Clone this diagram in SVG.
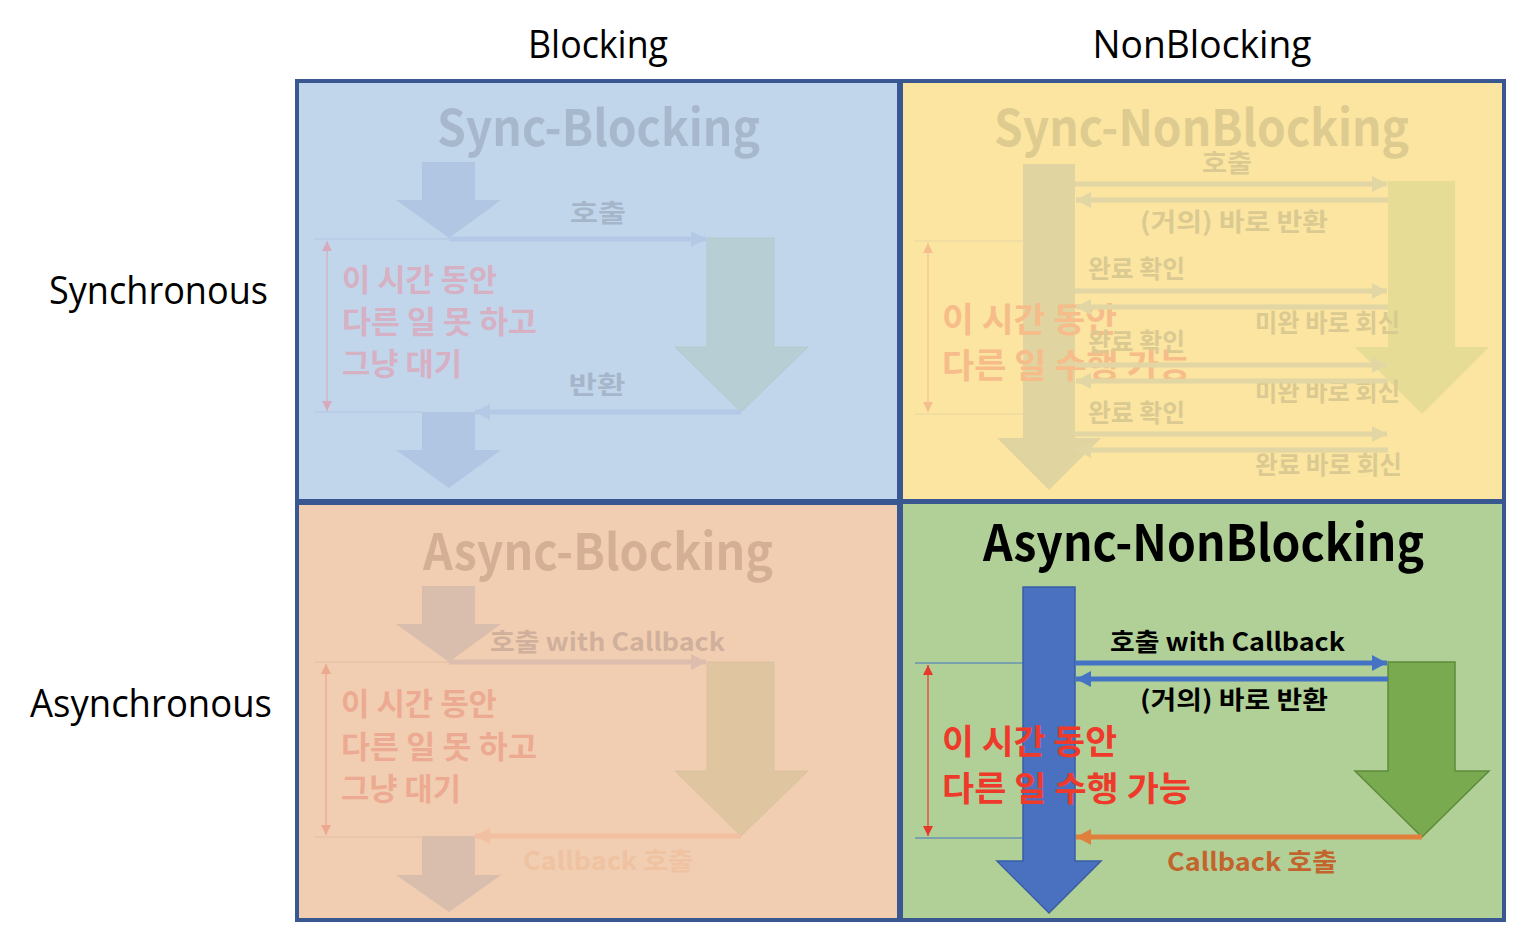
<svg xmlns="http://www.w3.org/2000/svg" width="1536" height="952" viewBox="0 0 1536 952">
<style>
.hdr{font-family:"Open Sans","Noto Sans",sans-serif;font-size:38px;fill:#000;text-anchor:middle}
.ttl{font-family:"Noto Sans CJK KR","Noto Sans",sans-serif;font-weight:700;font-size:50px;text-anchor:middle}
.lbl{font-family:"Noto Sans CJK KR","Noto Sans",sans-serif;font-weight:700;font-size:25px}
.lblm{font-family:"Noto Sans CJK KR","Noto Sans",sans-serif;font-weight:700;font-size:25px;text-anchor:middle}
.big{font-family:"Noto Sans CJK KR","Noto Sans",sans-serif;font-weight:700;font-size:31px}
.big2{font-family:"Noto Sans CJK KR","Noto Sans",sans-serif;font-weight:700;font-size:34px}
.quad{stroke:#395790;stroke-width:4}
.ln{stroke-width:5;fill:none}
.thin{stroke-width:1.2;fill:none}
</style>
<defs>
<marker id="mTLb" markerUnits="userSpaceOnUse" markerWidth="15" markerHeight="16" refX="15" refY="8" orient="auto"><path d="M0,0 L15,8 L0,16 z" fill="#B3C9E5"/></marker>
<marker id="mTLp" markerUnits="userSpaceOnUse" markerWidth="10" markerHeight="10" refX="10" refY="5" orient="auto-start-reverse"><path d="M0,0 L10,5 L0,10 z" fill="#D9AABD"/></marker>
<marker id="mTRy" markerUnits="userSpaceOnUse" markerWidth="15" markerHeight="16" refX="15" refY="8" orient="auto"><path d="M0,0 L15,8 L0,16 z" fill="#E2D6A4"/></marker>
<marker id="mTRo" markerUnits="userSpaceOnUse" markerWidth="10" markerHeight="10" refX="10" refY="5" orient="auto-start-reverse"><path d="M0,0 L10,5 L0,10 z" fill="#F5BE8E"/></marker>
<marker id="mBLc" markerUnits="userSpaceOnUse" markerWidth="15" markerHeight="16" refX="15" refY="8" orient="auto"><path d="M0,0 L15,8 L0,16 z" fill="#DCBDAE"/></marker>
<marker id="mBLo" markerUnits="userSpaceOnUse" markerWidth="15" markerHeight="16" refX="15" refY="8" orient="auto"><path d="M0,0 L15,8 L0,16 z" fill="#F1C0A0"/></marker>
<marker id="mBLp" markerUnits="userSpaceOnUse" markerWidth="10" markerHeight="10" refX="10" refY="5" orient="auto-start-reverse"><path d="M0,0 L10,5 L0,10 z" fill="#EDA890"/></marker>
<marker id="mBRb" markerUnits="userSpaceOnUse" markerWidth="15" markerHeight="16" refX="15" refY="8" orient="auto"><path d="M0,0 L15,8 L0,16 z" fill="#4472C4"/></marker>
<marker id="mBRo" markerUnits="userSpaceOnUse" markerWidth="15" markerHeight="16" refX="15" refY="8" orient="auto"><path d="M0,0 L15,8 L0,16 z" fill="#E0803C"/></marker>
<marker id="mBRr" markerUnits="userSpaceOnUse" markerWidth="10" markerHeight="10" refX="10" refY="5" orient="auto-start-reverse"><path d="M0,0 L10,5 L0,10 z" fill="#E8382A"/></marker>
</defs>
<rect width="1536" height="952" fill="#FFFFFF"/>

<g id="headers">
<text class="hdr" x="598" y="58" textLength="140" lengthAdjust="spacingAndGlyphs">Blocking</text>
<text class="hdr" x="1202" y="58" textLength="219" lengthAdjust="spacingAndGlyphs">NonBlocking</text>
<text class="hdr" x="158.5" y="304" textLength="219" lengthAdjust="spacingAndGlyphs">Synchronous</text>
<text class="hdr" x="151" y="717" textLength="242" lengthAdjust="spacingAndGlyphs">Asynchronous</text>
</g>

<g id="sync-blocking">
<rect class="quad" x="297" y="81" width="602" height="420" fill="#C2D6EB"/>
<text class="ttl" x="598.5" y="146" fill="#A8B8CC" textLength="323" lengthAdjust="spacingAndGlyphs">Sync-Blocking</text>
<polygon points="422,162 475,162 475,200 501,200 449,238 396,200 422,200" fill="#B0C6E3"/>
<polygon points="707,238 774,238 774,347 808,347 741,412 675,347 707,347" fill="#B8CED5" stroke="#B2CACB" stroke-width="1"/>
<polygon points="422,412 475,412 475,450 501,450 449,488 396,450 422,450" fill="#B0C6E3"/>
<text class="lblm" x="598" y="222" fill="#A6B6CA" textLength="56" lengthAdjust="spacingAndGlyphs">호출</text>
<text class="lblm" x="597" y="394" fill="#A6B6CA" textLength="57" lengthAdjust="spacingAndGlyphs">반환</text>
<text class="big" x="342" y="291" fill="#D6B0C3" textLength="155" lengthAdjust="spacingAndGlyphs">이 시간 동안</text>
<text class="big" x="342" y="333" fill="#D6B0C3" textLength="195" lengthAdjust="spacingAndGlyphs">다른 일 못 하고</text>
<text class="big" x="342" y="375" fill="#D6B0C3" textLength="120" lengthAdjust="spacingAndGlyphs">그냥 대기</text>
</g>

<g id="sync-nonblocking">
<rect class="quad" x="901" y="81" width="603" height="420" fill="#FBE5A1"/>
<text class="ttl" x="1201.5" y="146" fill="#DECB8F" textLength="415" lengthAdjust="spacingAndGlyphs">Sync-NonBlocking</text>
<polygon points="1023,164 1075,164 1075,438 1101,438 1049,490 997,438 1023,438" fill="#E0D4A0"/>
<polygon points="1388,181 1455,181 1455,347 1489,347 1422,414 1355,347 1388,347" fill="#E6DC95"/>
<text class="big2" x="942" y="332" fill="#F6BC8A" textLength="175" lengthAdjust="spacingAndGlyphs">이 시간 동안</text>
<text class="big2" x="942" y="378" fill="#F6BC8A" textLength="249" lengthAdjust="spacingAndGlyphs">다른 일 수행 가능</text>
<text class="lblm" x="1227" y="172" fill="#DACA92" textLength="50" lengthAdjust="spacingAndGlyphs">호출</text>
<text class="lblm" x="1234" y="231" fill="#DACA92" textLength="188" lengthAdjust="spacingAndGlyphs">(거의) 바로 반환</text>
<text class="lbl" x="1088" y="278" fill="#DACA92" textLength="97" lengthAdjust="spacingAndGlyphs">완료 확인</text>
<text class="lbl" x="1255" y="332" fill="#DACA92" textLength="145" lengthAdjust="spacingAndGlyphs">미완 바로 회신</text>
<text class="lbl" x="1088" y="351" fill="#DACA92" textLength="97" lengthAdjust="spacingAndGlyphs">완료 확인</text>
<text class="lbl" x="1255" y="401" fill="#DACA92" textLength="145" lengthAdjust="spacingAndGlyphs">미완 바로 회신</text>
<text class="lbl" x="1088" y="422" fill="#DACA92" textLength="97" lengthAdjust="spacingAndGlyphs">완료 확인</text>
<text class="lbl" x="1255" y="474" fill="#DACA92" textLength="147" lengthAdjust="spacingAndGlyphs">완료 바로 회신</text>
</g>

<g id="async-blocking">
<rect class="quad" x="297" y="503" width="602" height="417" fill="#F1CEB1"/>
<text class="ttl" x="598" y="570" fill="#D4AE95" textLength="350" lengthAdjust="spacingAndGlyphs">Async-Blocking</text>
<polygon points="422,586 475,586 475,624 501,624 449,662 396,624 422,624" fill="#D9BEAE"/>
<polygon points="707,662 774,662 774,771 808,771 741,836 675,771 707,771" fill="#E0C6A0" stroke="#DAC29E" stroke-width="1"/>
<polygon points="422,836 475,836 475,875 501,875 449,912 396,875 422,875" fill="#D9BEAE"/>
<text class="lbl" x="490" y="651" fill="#D0B09C" textLength="235" lengthAdjust="spacingAndGlyphs">호출 with Callback</text>
<text class="lbl" x="523" y="870" fill="#EFC2A2" textLength="170" lengthAdjust="spacingAndGlyphs">Callback 호출</text>
<text class="big" x="341" y="715" fill="#EDAA92" textLength="156" lengthAdjust="spacingAndGlyphs">이 시간 동안</text>
<text class="big" x="341" y="758" fill="#EDAA92" textLength="196" lengthAdjust="spacingAndGlyphs">다른 일 못 하고</text>
<text class="big" x="341" y="800" fill="#EDAA92" textLength="120" lengthAdjust="spacingAndGlyphs">그냥 대기</text>
</g>

<g id="async-nonblocking">
<rect class="quad" x="901" y="502" width="603" height="418" fill="#B1D098"/>
<text class="ttl" x="1203.5" y="561" fill="#000000" textLength="441" lengthAdjust="spacingAndGlyphs">Async-NonBlocking</text>
<polygon points="1023,587 1075,587 1075,861 1101,861 1049,913 997,861 1023,861" fill="#4A71C0" stroke="#3A5EA6" stroke-width="1.5"/>
<polygon points="1388,662 1455,662 1455,771 1489,771 1422,837 1355,771 1388,771" fill="#7AAA50" stroke="#5E8B3A" stroke-width="1.5"/>
<text class="big2" x="942" y="754" fill="#EE3A2A" textLength="175" lengthAdjust="spacingAndGlyphs">이 시간 동안</text>
<text class="big2" x="942" y="801" fill="#EE3A2A" textLength="249" lengthAdjust="spacingAndGlyphs">다른 일 수행 가능</text>
<text class="lbl" x="1110" y="651" fill="#000000" textLength="235" lengthAdjust="spacingAndGlyphs">호출 with Callback</text>
<text class="lblm" x="1234" y="709" fill="#000000" textLength="188" lengthAdjust="spacingAndGlyphs">(거의) 바로 반환</text>
<text class="lbl" x="1167" y="871" fill="#C3642C" textLength="170" lengthAdjust="spacingAndGlyphs">Callback 호출</text>
</g>

<g id="connectors">
<!-- sync-blocking -->
<line class="ln" x1="449" y1="239" x2="706" y2="239" stroke="#B3C9E5" marker-end="url(#mTLb)"/>
<line class="ln" x1="741" y1="412" x2="475" y2="412" stroke="#B3C9E5" marker-end="url(#mTLb)"/>
<line class="thin" x1="315" y1="239" x2="449" y2="239" stroke="#AFC6E2"/>
<line class="thin" x1="315" y1="412" x2="422" y2="412" stroke="#AFC6E2"/>
<line class="thin" x1="327" y1="241" x2="327" y2="411" stroke="#D9AABD" marker-start="url(#mTLp)" marker-end="url(#mTLp)"/>
<!-- sync-nonblocking -->
<line class="ln" x1="1075" y1="184" x2="1387" y2="184" stroke="#E2D6A4" marker-end="url(#mTRy)"/>
<line class="ln" x1="1388" y1="200" x2="1076" y2="200" stroke="#E2D6A4" marker-end="url(#mTRy)"/>
<line class="ln" x1="1075" y1="291" x2="1387" y2="291" stroke="#E2D6A4" marker-end="url(#mTRy)"/>
<line class="ln" x1="1388" y1="307" x2="1076" y2="307" stroke="#E2D6A4" marker-end="url(#mTRy)"/>
<line class="ln" x1="1075" y1="365" x2="1387" y2="365" stroke="#E2D6A4" marker-end="url(#mTRy)"/>
<line class="ln" x1="1388" y1="381" x2="1076" y2="381" stroke="#E2D6A4" marker-end="url(#mTRy)"/>
<line class="ln" x1="1075" y1="434" x2="1387" y2="434" stroke="#E2D6A4" marker-end="url(#mTRy)"/>
<line class="ln" x1="1388" y1="450" x2="1076" y2="450" stroke="#E2D6A4" marker-end="url(#mTRy)"/>
<line class="thin" x1="915" y1="241" x2="1023" y2="241" stroke="#E8D5A2"/>
<line class="thin" x1="915" y1="414" x2="1023" y2="414" stroke="#E8D5A2"/>
<line class="thin" x1="928" y1="243" x2="928" y2="412" stroke="#F5BE8E" marker-start="url(#mTRo)" marker-end="url(#mTRo)"/>
<!-- async-blocking -->
<line class="ln" x1="449" y1="662" x2="706" y2="662" stroke="#DCBDAE" marker-end="url(#mBLc)"/>
<line class="ln" x1="741" y1="836" x2="475" y2="836" stroke="#F1C0A0" marker-end="url(#mBLo)"/>
<line class="thin" x1="315" y1="662" x2="449" y2="662" stroke="#E2BBA8"/>
<line class="thin" x1="315" y1="837" x2="422" y2="837" stroke="#E2BBA8"/>
<line class="thin" x1="326" y1="664" x2="326" y2="835" stroke="#EDA890" marker-start="url(#mBLp)" marker-end="url(#mBLp)"/>
<!-- async-nonblocking -->
<line class="ln" x1="1075" y1="663" x2="1387" y2="663" stroke="#4472C4" marker-end="url(#mBRb)"/>
<line class="ln" x1="1388" y1="679" x2="1076" y2="679" stroke="#4472C4" marker-end="url(#mBRb)"/>
<line class="ln" x1="1422" y1="837" x2="1076" y2="837" stroke="#E0803C" marker-end="url(#mBRo)"/>
<line class="thin" x1="915" y1="663" x2="1023" y2="663" stroke="#4472C4"/>
<line class="thin" x1="915" y1="838" x2="1023" y2="838" stroke="#4472C4"/>
<line class="thin" x1="928" y1="665" x2="928" y2="836" stroke="#E8382A" marker-start="url(#mBRr)" marker-end="url(#mBRr)"/>
</g>
</svg>
